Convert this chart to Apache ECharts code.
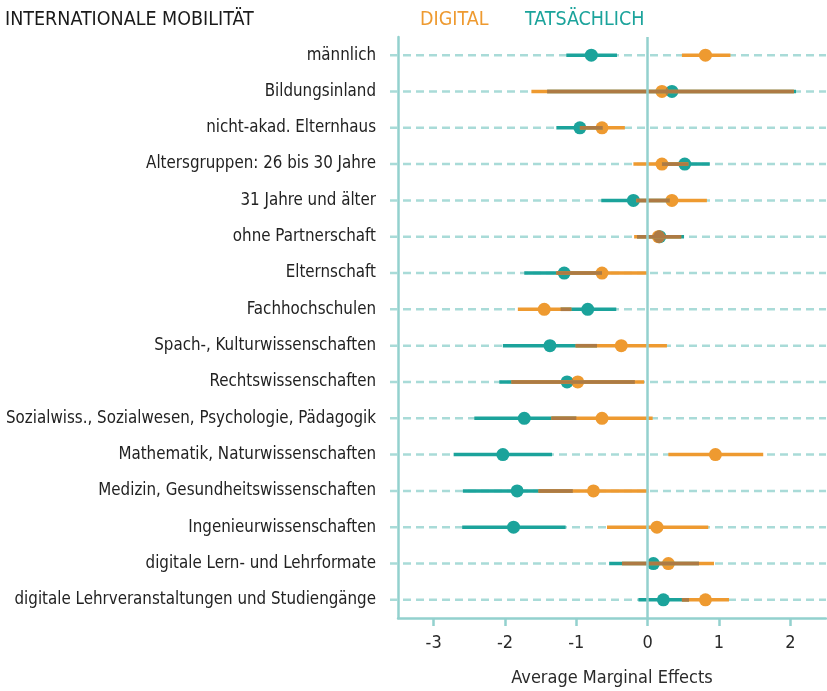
<!DOCTYPE html>
<html>
<head>
<meta charset="utf-8">
<script src="https://cdn.jsdelivr.net/npm/echarts@6/dist/echarts.min.js"></script>
<style>html,body{margin:0;padding:0;background:#fff}#c{width:827px;height:691px}</style>
</head>
<body>
<div id="c"></div>
<script>
const categories = ['männlich','Bildungsinland','nicht-akad. Elternhaus','Altersgruppen: 26 bis 30 Jahre','31 Jahre und älter','ohne Partnerschaft','Elternschaft','Fachhochschulen','Spach-, Kulturwissenschaften','Rechtswissenschaften','Sozialwiss., Sozialwesen, Psychologie, Pädagogik','Mathematik, Naturwissenschaften','Medizin, Gesundheitswissenschaften','Ingenieurwissenschaften','digitale Lern- und Lehrformate','digitale Lehrveranstaltungen und Studiengänge'];
const tatsLow  = [-1.14,-1.41,-1.28, 0.20,-0.65,-0.15,-1.73,-1.22,-2.03,-2.08,-2.43,-2.72,-2.59,-2.60,-0.54,-0.13];
const tatsEst  = [-0.79, 0.34,-0.95, 0.52,-0.20, 0.17,-1.17,-0.84,-1.37,-1.13,-1.73,-2.03,-1.83,-1.88, 0.08, 0.22];
const tatsHigh = [-0.43, 2.08,-0.63, 0.87, 0.31, 0.51,-0.64,-0.44,-0.71,-0.18,-1.00,-1.34,-1.05,-1.15, 0.72, 0.58];
const digLow   = [ 0.48,-1.63,-0.95,-0.20,-0.16,-0.19,-1.28,-1.82,-1.01,-1.91,-1.35, 0.29,-1.53,-0.57,-0.36, 0.48];
const digEst   = [ 0.81, 0.20,-0.64, 0.20, 0.34, 0.15,-0.64,-1.45,-0.37,-0.98,-0.64, 0.95,-0.76, 0.13, 0.29, 0.81];
const digHigh  = [ 1.16, 2.05,-0.32, 0.57, 0.83, 0.47, 0.00,-1.07, 0.27,-0.05, 0.07, 1.62, 0.01, 0.85, 0.93, 1.14];
const xTicks = [-3,-2,-1,0,1,2];
const legendNames = ['DIGITAL','TATSÄCHLICH'];
const titleText = 'INTERNATIONALE MOBILITÄT';
const axisName = 'Average Marginal Effects';

const ORANGE = '#ee9a30', TEAL = '#1ba39b', BROWN = '#ad7a44', GRID = '#a9dbd8', AXIS = '#93d1ce';
const FONT = "'DejaVu Sans Condensed','Liberation Sans Narrow','Roboto',sans-serif";

const rows = categories.map((c, i) => [i, tatsLow[i], tatsEst[i], tatsHigh[i], digLow[i], digEst[i], digHigh[i]]);

function lens(x1, x2, y, r) {
  const xl = Math.min(x1, x2), xr = Math.max(x1, x2), d = xr - xl;
  if (d >= 2 * r) return null;
  const a = Math.acos(d / 2 / r), pts = [], n = 20;
  for (let k = 0; k <= n; k++) { const t = -a + 2 * a * k / n; pts.push([xl + r * Math.cos(t), y + r * Math.sin(t)]); }
  for (let k = 0; k <= n; k++) { const t = Math.PI - a + 2 * a * k / n; pts.push([xr + r * Math.cos(t), y + r * Math.sin(t)]); }
  return pts;
}

function gridItem(params, api) {
  const i = api.value(0);
  const y = api.coord([0, i])[1];
  const cs = params.coordSys;
  return { type: 'line', shape: { x1: cs.x - 8, y1: y, x2: cs.x + cs.width, y2: y },
    style: { stroke: GRID, lineWidth: 2.5, lineDash: [8, 5] } };
}

function markItem(params, api) {
  const i = api.value(0);
  const P = v => api.coord([v, i]);
  const y = P(0)[1];
  const r = 6.5, lw = 3.5;
  const tl = P(api.value(1))[0], te = P(api.value(2))[0], th = P(api.value(3))[0];
  const dl = P(api.value(4))[0], de = P(api.value(5))[0], dh = P(api.value(6))[0];
  const ch = [];
  ch.push({ type: 'circle', shape: { cx: te, cy: y, r: r }, style: { fill: TEAL } });
  ch.push({ type: 'circle', shape: { cx: de, cy: y, r: r }, style: { fill: ORANGE } });
  const L = lens(te, de, y, r);
  if (L) ch.push({ type: 'polygon', shape: { points: L }, style: { fill: BROWN } });
  ch.push({ type: 'line', shape: { x1: tl, y1: y, x2: th, y2: y }, style: { stroke: TEAL, lineWidth: lw } });
  ch.push({ type: 'line', shape: { x1: dl, y1: y, x2: dh, y2: y }, style: { stroke: ORANGE, lineWidth: lw } });
  const ol = Math.max(tl, dl), oh = Math.min(th, dh);
  if (oh > ol) ch.push({ type: 'line', shape: { x1: ol, y1: y, x2: oh, y2: y }, style: { stroke: BROWN, lineWidth: lw } });
  return { type: 'group', children: ch };
}

const chart = echarts.init(document.getElementById('c'), null, { renderer: 'canvas' });
chart.setOption({
  animation: false,
  textStyle: { fontFamily: FONT },
  title: [
    { text: titleText, left: 5, top: 10, padding: 0, textStyle: { fontFamily: FONT, fontSize: 19.5, fontWeight: 'normal', color: '#1a1a1a' } },
    { text: legendNames[0], left: 420, top: 10, padding: 0, textStyle: { fontFamily: FONT, fontSize: 19.5, fontWeight: 'normal', color: ORANGE } },
    { text: legendNames[1], left: 525, top: 10, padding: 0, textStyle: { fontFamily: FONT, fontSize: 19.5, fontWeight: 'normal', color: TEAL } }
  ],
  grid: { left: 398, right: 1, top: 37, bottom: 73, containLabel: false, outerBoundsMode: 'none' },
  xAxis: {
    type: 'value', min: -3.5, max: 2.5,
    axisLine: { show: true, onZero: false, lineStyle: { color: AXIS, width: 2.5 } },
    axisTick: { show: true, customValues: xTicks, length: 8, lineStyle: { color: AXIS, width: 2.5 } },
    axisLabel: { customValues: xTicks, fontSize: 18, color: '#2a2a2a', margin: 16, fontFamily: FONT },
    splitLine: { show: false },
    name: axisName, nameLocation: 'middle', nameGap: 51,
    nameTextStyle: { fontSize: 18, color: '#2a2a2a', fontFamily: FONT }
  },
  yAxis: {
    type: 'category', data: categories, inverse: true,
    axisLine: { show: true, onZero: false, lineStyle: { color: AXIS, width: 2.5 } },
    axisTick: { show: false },
    axisLabel: { fontSize: 16.8, color: '#222', margin: 22, fontFamily: FONT },
    splitLine: { show: false }
  },
  series: [
    { type: 'custom', z: 1, renderItem: gridItem, data: rows, encode: { x: [1], y: 0 }, clip: false, silent: true,
      markLine: { silent: true, symbol: 'none', label: { show: false }, lineStyle: { color: AXIS, width: 2.5, type: 'solid' }, data: [{ xAxis: 0 }] } },
    { type: 'custom', z: 3, renderItem: markItem, data: rows, encode: { x: [1,2,3,4,5,6], y: 0 }, clip: false, silent: true }
  ]
});
</script>
</body>
</html>
